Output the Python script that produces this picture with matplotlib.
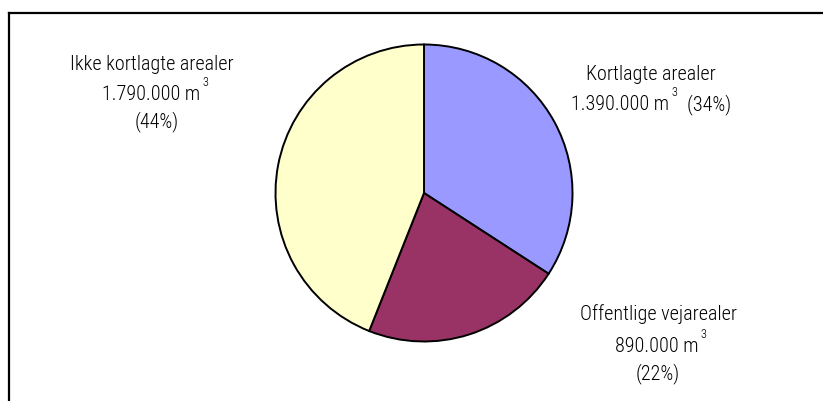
import matplotlib
matplotlib.use('Agg')
import matplotlib.pyplot as plt
from matplotlib.lines import Line2D

# Data
categories = ['Kortlagte arealer', 'Offentlige vejarealer', 'Ikke kortlagte arealer']
volumes_m3 = [1390000, 890000, 1790000]
colors = ['#9999FF', '#993366', '#FFFFCC']

plt.rcParams['font.family'] = ['Roboto Condensed', 'Liberation Sans', 'DejaVu Sans']
plt.rcParams['font.weight'] = 'light'

W, H = 823, 401
fig = plt.figure(figsize=(W / 100, H / 100), dpi=100)
fig.patch.set_facecolor('white')

# pie centre / radius in pixels
cx, cy, r = 424, 193, 148.5
ax = fig.add_axes([(cx - r) / W, (H - cy - r) / H, 2 * r / W, 2 * r / H])
ax.pie(volumes_m3, colors=colors, startangle=90, counterclock=False,
       wedgeprops=dict(edgecolor='black', linewidth=1.4))
ax.set_xlim(-1, 1)
ax.set_ylim(-1, 1)
ax.set_aspect('equal')
ax.axis('off')

# frame (left and top edge only)
fig.add_artist(Line2D([9 / W, 9 / W], [0, 1 - 13 / H], transform=fig.transFigure,
                      color='black', lw=1.6))
fig.add_artist(Line2D([9 / W, 1], [1 - 13 / H, 1 - 13 / H], transform=fig.transFigure,
                      color='black', lw=1.6))

total = sum(volumes_m3)
pct = [round(v / total * 100) for v in volumes_m3]
vol_txt = [f"{v:,}".replace(",", ".") + " m" for v in volumes_m3]

FS = 14.5
renderer = fig.canvas.get_renderer()


def px(x, y):
    return x / W, 1 - y / H


def seg_line(xc, y, segments):
    """Draw a centred line made of (text, size, dy) pieces."""
    arts = []
    for s, fs, dy in segments:
        t = fig.text(0, 0, s, fontsize=fs, va='baseline', ha='left')
        arts.append((t, dy))
    widths = [t.get_window_extent(renderer).width for t, _ in arts]
    x = xc - sum(widths) / 2
    for (t, dy), w in zip(arts, widths):
        t.set_position(px(x, y - dy))
        x += w


def plain(xc, y, s):
    fig.text(*px(xc, y), s, fontsize=FS, ha='center', va='baseline')


# Kortlagte arealer
plain(651, 80, categories[0])
seg_line(651, 110, [(vol_txt[0], FS, 0), (' 3', 9, 14), (f'  ({pct[0]}%)', FS, 0)])

# Offentlige vejarealer
plain(658, 320, categories[1])
seg_line(661, 352, [(vol_txt[1], FS, 0), (' 3', 9, 14)])
plain(658, 379, f'({pct[1]}%)')

# Ikke kortlagte arealer
plain(152, 70, categories[2])
seg_line(155, 100, [(vol_txt[2], FS, 0), (' 3', 9, 14)])
plain(157, 127, f'({pct[2]}%)')

fig.savefig('out.png', dpi=100)
